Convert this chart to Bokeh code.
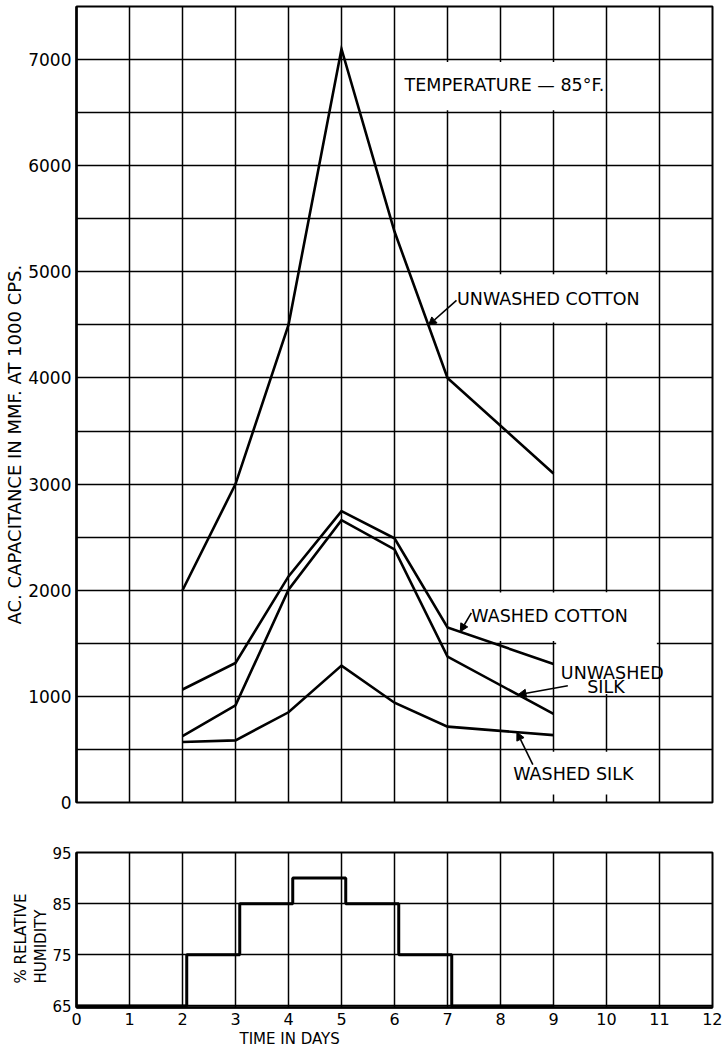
import numpy as np
from bokeh.plotting import figure
from bokeh.layouts import column
from bokeh.models import FixedTicker, Label, Arrow, NormalHead, Range1d, Title
from bokeh.embed import file_html
from bokeh.resources import INLINE

# ---------------- data ----------------
days = [2, 3, 4, 5, 6, 7, 9]
unwashed_cotton = [2000, 3000, 4500, 7100, 5380, 4000, 3100]
washed_cotton = [1065, 1315, 2130, 2745, 2490, 1650, 1305]
unwashed_silk = [625, 915, 2005, 2660, 2385, 1375, 835]
washed_silk = [570, 585, 850, 1290, 940, 715, 635]

rh_days = [0, 2.08, 3.08, 4.08, 5.08, 6.08, 7.08, 9]
rh_values = [65, 75, 85, 90, 85, 75, 65, 65]

x_ticks = list(range(0, 13))
cap_ticks = [0, 1000, 2000, 3000, 4000, 5000, 6000, 7000]
cap_minor = [500, 1500, 2500, 3500, 4500, 5500, 6500]
rh_ticks = [65, 75, 85, 95]

FONT = "DejaVu Sans"

def style_frame(p):
    p.background_fill_color = "white"
    p.border_fill_color = "white"
    p.outline_line_color = "black"
    p.outline_line_width = 2
    p.outline_line_alpha = 1

def style_axis(ax, size):
    ax.major_tick_line_color = None
    ax.minor_tick_line_color = None
    ax.major_tick_out = 0
    ax.major_tick_in = 0
    ax.minor_tick_out = 0
    ax.minor_tick_in = 0
    ax.axis_line_width = 2.5
    ax.major_label_text_font = FONT
    ax.major_label_text_font_size = size
    ax.major_label_text_color = "black"

def style_grid(g):
    g.grid_line_color = "black"
    g.grid_line_width = 1.5
    g.grid_line_alpha = 1

def side_title(p, text, place, offset, size, standoff=0):
    p.add_layout(Title(text=text, align="left", offset=offset, standoff=standoff,
                       text_font=FONT, text_font_size=size, text_font_style="normal",
                       text_color="black"), place)

# ---------------- top panel ----------------
p1 = figure(width=722, height=814, x_range=Range1d(0, 12), y_range=Range1d(0, 7500),
            output_backend="svg", toolbar_location=None,
            min_border_left=74, min_border_right=10, min_border_top=6, min_border_bottom=12)
style_frame(p1)
p1.xaxis.visible = False
p1.xgrid.ticker = FixedTicker(ticks=x_ticks)
p1.ygrid.ticker = FixedTicker(ticks=cap_ticks, minor_ticks=cap_minor)
p1.yaxis.ticker = FixedTicker(ticks=cap_ticks, minor_ticks=cap_minor)
style_grid(p1.xgrid)
style_grid(p1.ygrid)
p1.ygrid.minor_grid_line_color = "black"
p1.ygrid.minor_grid_line_width = 1.5
style_axis(p1.yaxis, "17px")
p1.yaxis.major_label_standoff = 5
side_title(p1, "AC. CAPACITANCE IN MMF. AT 1000 CPS.", "left", 178, "18px", standoff=2)

# white boxes hiding the grid behind labels
ex, ey = 0.05, 22
mask_left = [6 + ex, 7 + ex, 7 + ex, 9 + ex, 8 + ex]
mask_right = [10 - ex, 11 - ex, 11 - ex, 11 - ex, 11 - ex]
mask_bottom = [6500 + ey, 4500 + ey, 1500 + ey, 1000 + ey, 75]
mask_top = [7000 - ey, 5000 - ey, 2000 - ey, 2000 - ey, 500 - ey]
p1.quad(left=mask_left, right=mask_right, bottom=mask_bottom, top=mask_top,
        fill_color="white", line_color=None)

for series in (unwashed_cotton, washed_cotton, unwashed_silk, washed_silk):
    p1.line(days, series, line_color="black", line_width=2.6, line_join="miter")

def lab(p, x, y, text, size="17.5px", align="left"):
    p.add_layout(Label(x=x, y=y, text=text, text_font=FONT, text_font_size=size,
                       text_align=align, text_baseline="middle", text_color="black"))

lab(p1, 6.19, 6764, "TEMPERATURE — 85°F.")
lab(p1, 7.18, 4741, "UNWASHED COTTON")
lab(p1, 7.45, 1759, "WASHED COTTON")
lab(p1, 10.11, 1223, "UNWASHED", align="center")
lab(p1, 9.99, 1091, "SILK", align="center")
lab(p1, 8.24, 273, "WASHED SILK")

def arrow(p, xs, ys, xe, series):
    ye = float(np.interp(xe, days, series))
    p.add_layout(Arrow(x_start=xs, y_start=ys, x_end=xe, y_end=ye, line_width=1.6,
                       line_color="black",
                       end=NormalHead(size=8, fill_color="black", line_color="black")))

arrow(p1, 7.17, 4732, 6.64, unwashed_cotton)
arrow(p1, 7.45, 1787, 7.24, washed_cotton)
arrow(p1, 9.27, 1100, 8.33, unwashed_silk)
arrow(p1, 8.61, 357, 8.31, washed_silk)

# ---------------- bottom panel ----------------
p2 = figure(width=722, height=235, x_range=Range1d(0, 12), y_range=Range1d(64.7, 95),
            output_backend="svg", toolbar_location=None,
            min_border_left=74, min_border_right=10, min_border_top=38, min_border_bottom=42)
style_frame(p2)
p2.xaxis.ticker = FixedTicker(ticks=x_ticks)
p2.yaxis.ticker = FixedTicker(ticks=rh_ticks)
style_grid(p2.xgrid)
style_grid(p2.ygrid)
style_axis(p2.xaxis, "16px")
style_axis(p2.yaxis, "15px")
p2.xaxis.major_label_standoff = 5
p2.yaxis.major_label_standoff = 5

p2.step(rh_days, rh_values, mode="after", line_color="black", line_width=3)

side_title(p2, "HUMIDITY", "left", 24, "15px")
side_title(p2, "% RELATIVE", "left", 24, "15px")
side_title(p2, "TIME IN DAYS", "below", 163, "15px")

layout = column(p1, p2)
open("out.html", "w").write(file_html(layout, INLINE))
